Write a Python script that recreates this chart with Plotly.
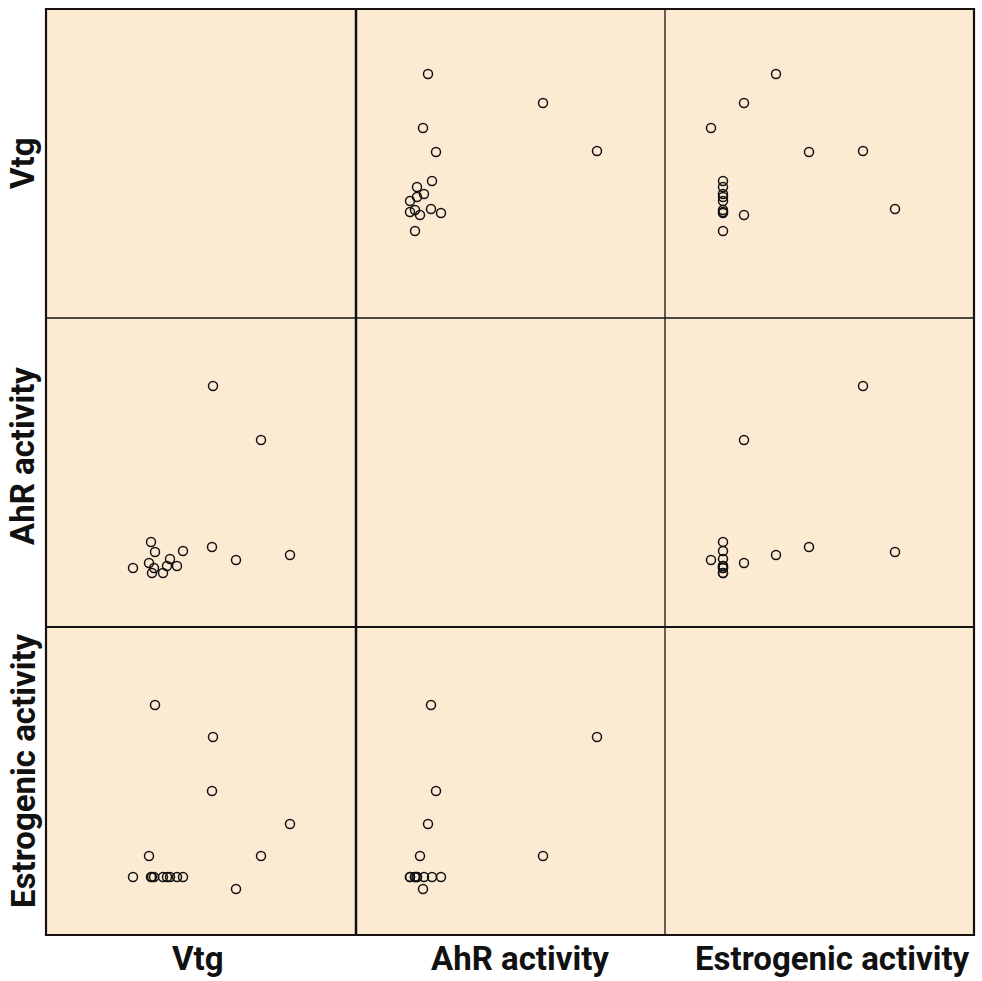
import plotly.graph_objects as go

# Values (arbitrary units, no axis ticks in the original)
Vtg = [244, 215, 190, 166, 167, 137, 131, 124, 121, 117, 108, 106, 103, 109, 105, 87]
AhR = [72, 187, 67, 80, 241, 76, 61, 68, 61, 54, 59, 54, 64, 75, 85, 59]
Est = [111, 79, 46, 144, 198, 58, 58, 58, 58, 58, 58, 58, 79, 230, 58, 58]
labels = ["Vtg", "AhR activity", "Estrogenic activity"]
data = [Vtg, AhR, Est]

W, H = 982, 981
xe = [46, 356, 665, 974]
ye = [9, 318, 627, 935]
BG = "#FDEAD3"

fig = go.Figure()
layout = dict(
    width=W, height=H, margin=dict(l=0, r=0, t=0, b=0),
    paper_bgcolor="white", plot_bgcolor="rgba(0,0,0,0)",
    showlegend=False,
)

for r in range(3):
    for c in range(3):
        k = r * 3 + c + 1
        xn = "x" if k == 1 else f"x{k}"
        yn = "y" if k == 1 else f"y{k}"
        xkey = "xaxis" if k == 1 else f"xaxis{k}"
        ykey = "yaxis" if k == 1 else f"yaxis{k}"
        layout[xkey] = dict(domain=[xe[c] / W, xe[c + 1] / W], range=[0, xe[c + 1] - xe[c]],
                            visible=False, anchor=yn, fixedrange=True)
        layout[ykey] = dict(domain=[1 - ye[r + 1] / H, 1 - ye[r] / H], range=[0, ye[r + 1] - ye[r]],
                            visible=False, anchor=xn, fixedrange=True)
        if r != c:
            fig.add_trace(go.Scatter(
                x=data[c], y=data[r], xaxis=xn, yaxis=yn, mode="markers",
                marker=dict(symbol="circle-open", size=9, color="#111",
                            line=dict(width=1.5, color="#111")),
                cliponaxis=False, hoverinfo="skip"))

fig.update_layout(**layout)

shapes = []
# panel background
shapes.append(dict(type="rect", xref="paper", yref="paper", x0=xe[0] / W, x1=xe[3] / W,
                   y0=1 - ye[3] / H, y1=1 - ye[0] / H, fillcolor=BG, line=dict(width=0), layer="below"))
# internal dividers
def vline(xp, w):
    return dict(type="line", xref="paper", yref="paper", x0=xp / W, x1=xp / W,
                y0=1 - ye[3] / H, y1=1 - ye[0] / H, line=dict(color="#111", width=w))
def hline(yp, w):
    return dict(type="line", xref="paper", yref="paper", y0=1 - yp / H, y1=1 - yp / H,
                x0=xe[0] / W, x1=xe[3] / W, line=dict(color="#111", width=w))
shapes += [vline(xe[1], 2.5), vline(xe[2], 1.3), hline(ye[1], 1.3), hline(ye[2], 2.2)]
# outer frame
shapes.append(dict(type="rect", xref="paper", yref="paper", x0=xe[0] / W, x1=xe[3] / W,
                   y0=1 - ye[3] / H, y1=1 - ye[0] / H, line=dict(color="#1a1010", width=2.2)))
fig.update_layout(shapes=shapes)

font = dict(family="Roboto, DejaVu Sans, sans-serif", size=33, color="#111")
bx = [198, 520, 832]
for i, lab in enumerate(labels):
    fig.add_annotation(text=f"<b>{lab}</b>", xref="paper", yref="paper", x=bx[i] / W, y=1 - 958 / H,
                       showarrow=False, font=font, xanchor="center", yanchor="middle")
vy = [163, 456, 771]
for i, lab in enumerate(labels):
    fig.add_annotation(text=f"<b>{lab}</b>", xref="paper", yref="paper", x=23 / W, y=1 - vy[i] / H,
                       showarrow=False, font=font, textangle=-90, xanchor="center", yanchor="middle")

fig.write_html("out.html")
